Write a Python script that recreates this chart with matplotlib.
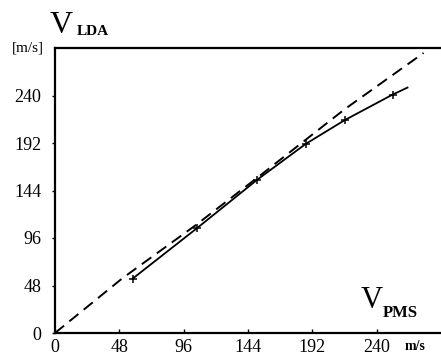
import matplotlib
matplotlib.use('Agg')
import matplotlib.pyplot as plt

# Значения
ticks = [0, 48, 96, 144, 192, 240]
ideal_x = [0, 50, 105, 151, 216, 275]
ideal_y = [0, 55, 109, 157, 226, 283]
meas_x = [58, 106, 151, 187, 216, 252, 263]
meas_y = [55, 106, 155, 191, 215, 241, 248]
mark_x = [58, 106, 151, 187, 216, 252]
mark_y = [55, 106, 155, 191, 215, 241]

plt.rcParams['font.family'] = ['Liberation Serif', 'DejaVu Serif']

fig = plt.figure(figsize=(4.41, 3.56), dpi=100)
ax = fig.add_axes([55 / 441, 23 / 356, 386 / 441, 285 / 356])

ax.plot(ideal_x, ideal_y, color='black', lw=1.4, dashes=(6, 3.5))
ax.plot(meas_x, meas_y, color='black', lw=1.3)
ax.plot(mark_x, mark_y, ls='none', marker='+', ms=6, mew=1.1, color='black')

ax.set_xlim(0, 288)
ax.set_ylim(0, 288)
ax.set_xticks(ticks)
ax.set_yticks(ticks)
ax.tick_params(axis='y', direction='out', length=2, width=1, pad=8, labelsize=13)
ax.tick_params(axis='x', direction='in', length=3, width=1, pad=4, labelsize=13)

ax.spines['right'].set_visible(False)
for s in ['left', 'top', 'bottom']:
    ax.spines[s].set_linewidth(1.6)

# подписи осей
fig.text(50 / 441, 1 - 33 / 356, 'V', fontsize=23, ha='left', va='baseline')
fig.text(77 / 441, 1 - 35 / 356, 'LDA', fontsize=11, fontweight='bold', ha='left', va='baseline')
fig.text(12 / 441, 1 - 51 / 356, '[m/s]', fontsize=11, ha='left', va='baseline')
fig.text(361 / 441, 1 - 308 / 356, 'V', fontsize=22, ha='left', va='baseline')
fig.text(383 / 441, 1 - 317 / 356, 'PMS', fontsize=12, fontweight='bold', ha='left', va='baseline')
fig.text(405 / 441, 1 - 350 / 356, 'm/s', fontsize=10, fontweight='bold', ha='left', va='baseline')

fig.savefig('out.png', dpi=100)
